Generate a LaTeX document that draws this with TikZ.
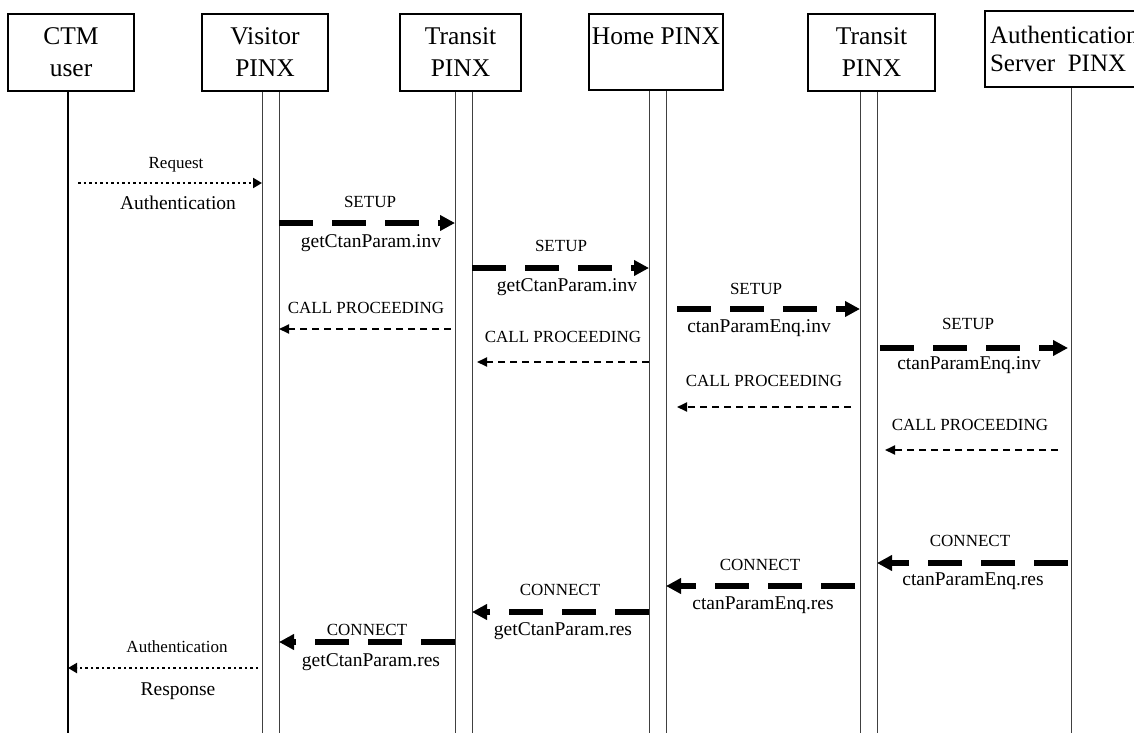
\documentclass[tikz,border=0pt]{standalone}
\usepackage{fontspec}
\setmainfont{Liberation Serif}
\usetikzlibrary{arrows.meta}
\begin{document}
\begin{tikzpicture}[x=1pt,y=-1pt,
  box/.style={draw, line width=2pt, minimum height=77pt, inner sep=0pt,
    align=center, font=\fontsize{25.5}{32}\selectfont},
  life/.style={line width=1pt, black!75},
  lifethick/.style={line width=2.5pt, black},
  thickarr/.style={line width=6pt, dash pattern=on 34pt off 19pt,
    -{Triangle[length=15pt,width=15pt]}},
  thinarr/.style={line width=2pt, dash pattern=on 7pt off 5pt,
    -{Triangle[length=10pt,width=9pt]}},
  dotarr/.style={line width=2pt, dash pattern=on 2.5pt off 3pt,
    -{Triangle[length=9pt,width=10pt]}},
  labs/.style={font=\fontsize{17}{20}\selectfont, anchor=base, inner sep=0pt},
  labb/.style={font=\fontsize{19.5}{22}\selectfont, anchor=base, inner sep=0pt}]
\useasboundingbox (0,0) rectangle (1134,733);
\clip (0,0) rectangle (1134,733);

% lifelines
\coordinate (ctmT) at (68,91);   \coordinate (ctmB) at (68,733);
\coordinate (visLT) at (262,91); \coordinate (visLB) at (262,733);
\coordinate (visRT) at (279,91); \coordinate (visRB) at (279,733);
\coordinate (traLT) at (455,91); \coordinate (traLB) at (455,733);
\coordinate (traRT) at (472,91); \coordinate (traRB) at (472,733);
\coordinate (homLT) at (649,90); \coordinate (homLB) at (649,733);
\coordinate (homRT) at (666,90); \coordinate (homRB) at (666,733);
\coordinate (trbLT) at (860,91); \coordinate (trbLB) at (860,733);
\coordinate (trbRT) at (877,91); \coordinate (trbRB) at (877,733);
\coordinate (autT) at (1071,87); \coordinate (autB) at (1071,733);
\draw[lifethick] (ctmT) -- (ctmB);
\draw[life] (visLT) -- (visLB);
\draw[life] (visRT) -- (visRB);
\draw[life] (traLT) -- (traLB);
\draw[life] (traRT) -- (traRB);
\draw[life] (homLT) -- (homLB);
\draw[life] (homRT) -- (homRB);
\draw[life] (trbLT) -- (trbLB);
\draw[life] (trbRT) -- (trbRB);
\draw[life] (autT) -- (autB);

% boxes
\node[box, minimum width=126pt] (ctm) at (71,52.5) {CTM\\user};
\node[box, minimum width=126pt] (vis) at (265,52.5) {Visitor\\PINX};
\node[box, minimum width=121pt] (tra) at (460.5,52.5) {Transit\\PINX};
\node[box, minimum width=134pt, minimum height=76pt] (home) at (656,52) {Home PINX\\\phantom{P}};
\node[box, minimum width=127pt] (trb) at (871.5,52.5) {Transit\\PINX};
\node[box, minimum width=158.6pt, minimum height=76pt, align=left,
  font=\fontsize{25}{28}\selectfont] (auth) at (1064.3,49) {Authentication\\Server~~PINX};

% message end points
\coordinate (m1s) at (78,183);   \coordinate (m1e) at (262,183);
\coordinate (m2s) at (279,223);  \coordinate (m2e) at (455,223);
\coordinate (m3s) at (451,329);  \coordinate (m3e) at (279,329);
\coordinate (m4s) at (472,268);  \coordinate (m4e) at (649,268);
\coordinate (m5s) at (677,309);  \coordinate (m5e) at (860,309);
\coordinate (m6s) at (649,362);  \coordinate (m6e) at (477,362);
\coordinate (m7s) at (851,407);  \coordinate (m7e) at (677,407);
\coordinate (m8s) at (880,348);  \coordinate (m8e) at (1068,348);
\coordinate (m9s) at (1058,450); \coordinate (m9e) at (885,450);
\coordinate (m10s) at (1068,563); \coordinate (m10e) at (877,563);
\coordinate (m11s) at (855,586);  \coordinate (m11e) at (666,586);
\coordinate (m12s) at (649,612);  \coordinate (m12e) at (472,612);
\coordinate (m13s) at (455,642);  \coordinate (m13e) at (279,642);
\coordinate (m14s) at (258,668);  \coordinate (m14e) at (68,668);

% messages
\draw[dotarr] (m1s) -- (m1e);
\node[labs] (l1a) at (176,168) {Request};
\node[labb] (l1b) at (178,209) {Authentication};

\draw[thickarr] (m2s) -- (m2e);
\node[labs] (l2a) at (370,207) {SETUP};
\node[labb] (l2b) at (371,247) {getCtanParam.inv};

\draw[thinarr] (m3s) -- (m3e);
\node[labs] (l3a) at (366,313) {CALL PROCEEDING};

\draw[thickarr] (m4s) -- (m4e);
\node[labs] (l4a) at (561,251) {SETUP};
\node[labb] (l4b) at (567,291) {getCtanParam.inv};

\draw[thickarr] (m5s) -- (m5e);
\node[labs] (l5a) at (756,294) {SETUP};
\node[labb] (l5b) at (759,332) {ctanParamEnq.inv};

\draw[thinarr] (m6s) -- (m6e);
\node[labs] (l6a) at (563,342) {CALL PROCEEDING};

\draw[thinarr] (m7s) -- (m7e);
\node[labs] (l7a) at (764,386) {CALL PROCEEDING};

\draw[thickarr] (m8s) -- (m8e);
\node[labs] (l8a) at (968,329) {SETUP};
\node[labb] (l8b) at (969,369) {ctanParamEnq.inv};

\draw[thinarr] (m9s) -- (m9e);
\node[labs] (l9a) at (970,430) {CALL PROCEEDING};

\draw[thickarr] (m10s) -- (m10e);
\node[labs] (l10a) at (970,546) {CONNECT};
\node[labb] (l10b) at (973,585) {ctanParamEnq.res};

\draw[thickarr] (m11s) -- (m11e);
\node[labs] (l11a) at (760,570) {CONNECT};
\node[labb] (l11b) at (763,609) {ctanParamEnq.res};

\draw[thickarr] (m12s) -- (m12e);
\node[labs] (l12a) at (560,595) {CONNECT};
\node[labb] (l12b) at (563,635) {getCtanParam.res};

\draw[thickarr] (m13s) -- (m13e);
\node[labs] (l13a) at (367,635) {CONNECT};
\node[labb] (l13b) at (371,666) {getCtanParam.res};

\draw[dotarr] (m14s) -- (m14e);
\node[labs] (l14a) at (177,652) {Authentication};
\node[labb] (l14b) at (178,695) {Response};
\end{tikzpicture}
\end{document}
